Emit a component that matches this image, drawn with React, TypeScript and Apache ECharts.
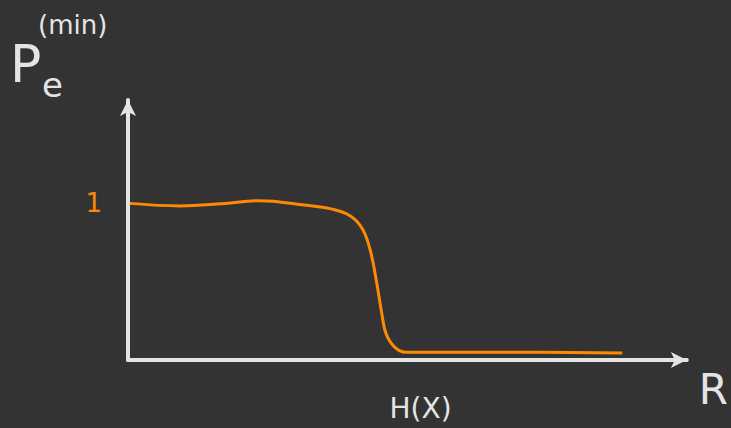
import React, { useEffect, useRef } from "react";
import * as echarts from "echarts";

const curveX = [0.007, 0.19, 0.34, 0.48, 0.64, 0.74, 0.81, 0.854, 0.883, 0.905, 0.923, 0.94, 0.97, 1.01, 1.36, 1.8];
const curveY = [1.0, 0.984, 0.997, 1.017, 0.99, 0.965, 0.92, 0.836, 0.695, 0.5, 0.31, 0.167, 0.084, 0.05, 0.05, 0.045];
const yTickLabel = "1";
const xTickLabel = "H(X)";
const xAxisName = "R";

export default function App() {
  const ref = useRef<HTMLDivElement>(null);
  useEffect(() => {
    document.body.style.margin = "0";
    document.body.style.background = "#333333";
    const chart = echarts.init(ref.current!, null, { renderer: "svg" });
    const white = "#e4e4e4";
    const orange = "#ff8a00";
    chart.setOption({
      animation: false,
      backgroundColor: "#333333",
      grid: { left: 128, right: 44, top: 100, bottom: 68 },
      xAxis: {
        type: "value",
        min: 0,
        max: 2.035,
        interval: 1,
        splitLine: { show: false },
        axisTick: { show: false },
        axisLine: {
          lineStyle: { color: white, width: 4, cap: "round" },
          symbol: ["none", "arrow"],
          symbolSize: [12, 16],
        },
        axisLabel: {
          color: white,
          fontSize: 28,
          fontFamily: "DejaVu Sans",
          margin: 34,
          padding: [0, 0, 0, 36],
          formatter: (v: number) => (v === 1 ? xTickLabel : ""),
        },
        name: xAxisName,
        nameLocation: "end",
        nameGap: 12,
        nameTextStyle: { color: white, fontSize: 42, fontFamily: "DejaVu Sans", verticalAlign: "top", padding: [8, 0, 0, 0] },
      },
      yAxis: {
        type: "value",
        min: 0,
        max: 1.66,
        interval: 1,
        splitLine: { show: false },
        axisTick: { show: false },
        axisLine: {
          lineStyle: { color: white, width: 4, cap: "round" },
          symbol: ["none", "arrow"],
          symbolSize: [12, 16],
        },
        axisLabel: {
          color: orange,
          fontSize: 26,
          fontFamily: "DejaVu Sans",
          margin: 26,
          formatter: (v: number) => (v === 1 ? yTickLabel : ""),
        },
      },
      graphic: [
        { type: "text", left: 10, top: 38, style: { text: "P", fill: white, fontSize: 52, fontFamily: "DejaVu Sans" } },
        { type: "text", left: 38, top: 12, style: { text: "(min)", fill: white, fontSize: 26, fontFamily: "DejaVu Sans" } },
        { type: "text", left: 42, top: 68, style: { text: "e", fill: white, fontSize: 34, fontFamily: "DejaVu Sans" } },
      ],
      series: [
        {
          type: "line",
          smooth: 0.4,
          symbol: "none",
          data: curveX.map((x, i) => [x, curveY[i]]),
          lineStyle: { color: orange, width: 3 },
        },
      ],
    });
    return () => chart.dispose();
  }, []);
  return <div ref={ref} style={{ width: 731, height: 428 }} />;
}
